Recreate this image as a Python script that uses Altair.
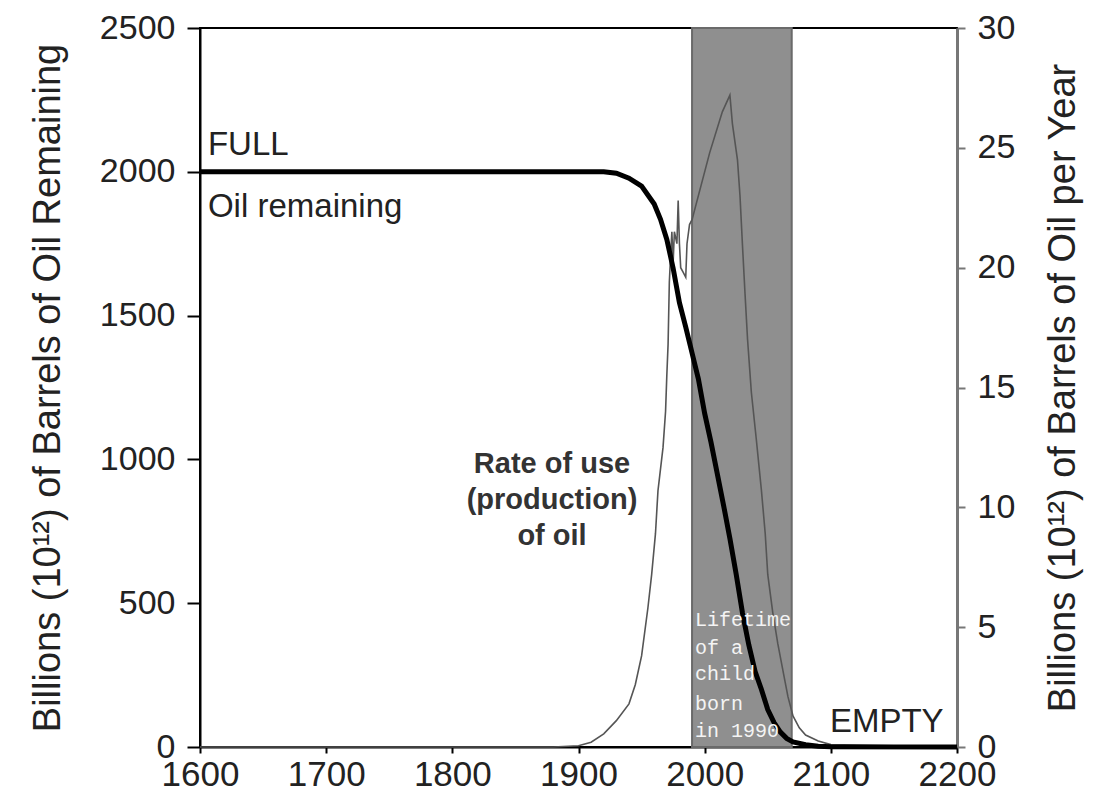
import altair as alt
import pandas as pd

# ---------------- data ----------------
remaining_years = [1600, 1900, 1920, 1930, 1940, 1950, 1960, 1965, 1970, 1975, 1980,
                   1985, 1990, 1995, 2000, 2005, 2010, 2015, 2020, 2025, 2030, 2035,
                   2040, 2045, 2050, 2055, 2060, 2065, 2070, 2080, 2090, 2100, 2200]
remaining_values = [2000, 2000, 2000, 1995, 1978, 1950, 1888, 1835, 1765, 1665, 1545,
                    1460, 1370, 1280, 1160, 1060, 950, 840, 725, 600, 465, 355,
                    262, 200, 130, 85, 52, 30, 18, 8, 3, 1, 0]

rate_years = [1600, 1880, 1900, 1910, 1920, 1930, 1940, 1945, 1950, 1955, 1958, 1961,
              1963, 1967, 1969, 1970, 1971, 1972, 1973, 1974, 1975, 1976, 1978, 1979,
              1980, 1981, 1983, 1985, 1986, 1988, 1990, 1992, 2004, 2014, 2020, 2022,
              2026, 2028, 2030, 2032, 2034, 2037, 2041, 2045, 2048, 2050, 2054, 2058,
              2062, 2066, 2070, 2075, 2080, 2090, 2100, 2200]
rate_values = [0, 0, 0.05, 0.2, 0.55, 1.1, 1.8, 2.6, 3.8, 5.8, 7.2, 8.9,
               10.7, 12.5, 14.0, 15.5, 16.8, 19.4, 20.5, 21.5, 20.2, 21.5, 21.0, 22.8,
               21.0, 20.0, 19.8, 19.6, 21.0, 21.8, 22.0, 22.4, 24.8, 26.5, 27.2, 26.0,
               24.5, 23.0, 20.9, 18.9, 17.0, 14.8, 12.8, 10.7, 8.9, 7.2, 5.6, 4.3,
               3.2, 2.1, 1.3, 0.8, 0.5, 0.25, 0.1, 0]

x_ticks = [1600, 1700, 1800, 1900, 2000, 2100, 2200]
left_ticks = [0, 500, 1000, 1500, 2000, 2500]
right_ticks = [0, 5, 10, 15, 20, 25, 30]

lifetime_start = [1990]
lifetime_end = [2069]

plain_labels = ["FULL", "Oil remaining", "EMPTY"]
plain_x = [1606.3, 1606.3, 2099.3]
plain_y = [2057, 1842, 52]

rate_label_lines = ["Rate of use", "(production)", "of oil"]
rate_label_x = [1879, 1879, 1879]
rate_label_y = [952, 828, 703]

life_lines = ["Lifetime", "of a", "child", "born", "in 1990"]
life_x = [1992.3, 1992.3, 1992.3, 1992.3, 1992.3]
life_y = [422, 325, 232, 128, 35]

# ---------------- tables ----------------
remaining_df = pd.DataFrame({"year": remaining_years, "value": remaining_values})
rate_df = pd.DataFrame({"year": rate_years, "value": rate_values})
band_df = pd.DataFrame({"start": lifetime_start, "end": lifetime_end})
plain_df = pd.DataFrame({"x": plain_x, "y": plain_y, "t": plain_labels})
rate_lbl_df = pd.DataFrame({"x": rate_label_x, "y": rate_label_y, "t": rate_label_lines})
life_df = pd.DataFrame({"x": life_x, "y": life_y, "t": life_lines})

FONT = "Liberation Sans"
TXT = "#222222"
H = 719
LBL = 34

xscale = alt.Scale(domain=[1600, 2200], nice=False, zero=False)
left_scale = alt.Scale(domain=[0, 2500], nice=False, zero=True)
right_scale = alt.Scale(domain=[0, 30], nice=False, zero=True)

xaxis = alt.Axis(values=x_ticks, format="d", title=None, grid=False,
                 labelFontSize=LBL + 1, labelPadding=4, tickSize=6, tickWidth=2,
                 labelFlush=False, labelOverlap=False, labelBound=False,
                 tickColor="black", domainColor="black", domainWidth=2,
                 labelColor=TXT, labelFont=FONT)

left_axis = alt.Axis(orient="left", values=left_ticks, format="d", grid=False,
                     labelFontSize=LBL, labelPadding=12, tickSize=13, tickWidth=2,
                     labelFlush=False, labelOverlap=False,
                     tickColor="black", domainColor="black", domainWidth=2,
                     labelColor=TXT, labelFont=FONT,
                     title="Billions (10¹²) of Barrels of Oil Remaining",
                     titleFont=FONT, titleFontSize=38, titleFontWeight="normal",
                     titleColor=TXT, titleAngle=270, titleAlign="center",
                     titleBaseline="alphabetic", titleX=-141, titleY=H / 2)

right_axis = alt.Axis(orient="right", values=right_ticks, format="d", grid=False,
                      labelFontSize=LBL, labelPadding=12, tickSize=8, tickWidth=2,
                      labelFlush=False, labelOverlap=False,
                      tickColor="#777777", domainColor="#777777", domainWidth=3,
                      labelColor=TXT, labelFont=FONT,
                      title="Billions (10¹²) of Barrels of Oil per Year",
                      titleFont=FONT, titleFontSize=38, titleFontWeight="normal",
                      titleColor=TXT, titleAngle=270, titleAlign="center",
                      titleBaseline="alphabetic", titleX=117, titleY=H / 2)

X_year = alt.X("year:Q", scale=xscale, axis=xaxis)

# ---- layer A: shaded lifetime band + rate of use (right axis) ----
band = alt.Chart(band_df).mark_rect(color="#8f8f8f", stroke="#6a6a6a", strokeWidth=2).encode(
    x=alt.X("start:Q", scale=xscale, axis=xaxis),
    x2="end:Q",
    y=alt.Y(datum=30, scale=right_scale, axis=right_axis),
    y2=alt.datum(0),
)

rate_line = alt.Chart(rate_df).mark_line(color="#555555", strokeWidth=1.6).encode(
    x=X_year,
    y=alt.Y("value:Q", scale=right_scale, axis=right_axis),
)

layer_a = alt.layer(band, rate_line)

# ---- layer B: oil remaining (left axis) + annotations ----
remaining_line = alt.Chart(remaining_df).mark_line(color="black", strokeWidth=5).encode(
    x=X_year,
    y=alt.Y("value:Q", scale=left_scale, axis=left_axis),
)


def text_layer(df, **kw):
    return alt.Chart(df).mark_text(baseline="alphabetic", **kw).encode(
        x=alt.X("x:Q", scale=xscale, axis=xaxis),
        y=alt.Y("y:Q", scale=left_scale, axis=left_axis),
        text="t:N",
    )


plain_text = text_layer(plain_df, align="left", fontSize=33, font=FONT, color=TXT)
rate_text = text_layer(rate_lbl_df, align="center", fontSize=29, font=FONT,
                       fontWeight="bold", color="#333333")
life_text = text_layer(life_df, align="left", fontSize=20, font="Liberation Mono",
                       color="#f4f4f4")

layer_b = alt.layer(remaining_line, plain_text, rate_text, life_text)

chart = (
    alt.layer(layer_a, layer_b)
    .resolve_scale(y="independent")
    .properties(
        width=757,
        height=H,
        autosize=alt.AutoSizeParams(type="none"),
        padding={"left": 192, "top": 20, "right": 129, "bottom": 44},
        background="white",
    )
    .configure_view(stroke="black", strokeWidth=2)
)

chart.save("out.html", embed_options={"renderer": "svg", "actions": False})
